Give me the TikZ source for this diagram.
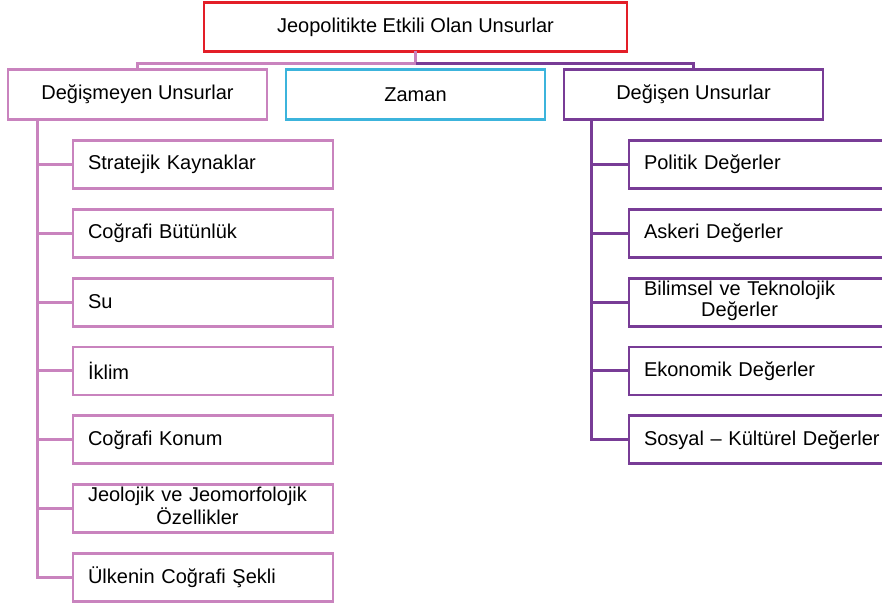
\documentclass[tikz,border=0pt]{standalone}
\usepackage{fontspec}
\setmainfont{Liberation Sans}
\usetikzlibrary{positioning}
\definecolor{jpred}{HTML}{E31E28}
\definecolor{jppink}{HTML}{C983BE}
\definecolor{jppurple}{HTML}{783C96}
\definecolor{jpcyan}{HTML}{3CB4DC}
\newcommand{\twoline}[2]{\begin{tabular}{@{}c@{}}#1\\#2\end{tabular}}

\begin{document}
\begin{tikzpicture}[x=1pt, y=1pt,
    box/.style={draw, fill=white, line width=2.8pt, inner sep=0pt, outer sep=0pt,
                font=\fontsize{20}{20}\selectfont},
    headbox/.style={box, minimum width=259pt, minimum height=50pt},
    leftitem/.style={box, draw=jppink, minimum height=48pt, inner xsep=15pt,
                     text width=230pt, align=left},
    rightitem/.style={box, draw=jppurple, minimum height=48pt, inner xsep=15pt,
                      text width=240pt, align=left},
    pinkline/.style={draw=jppink, line width=3pt},
    purpleline/.style={draw=jppurple, line width=3pt}]
  \useasboundingbox[fill=white] (0,0) rectangle (882,-607);

  \node[box, draw=jpred, minimum width=423pt, minimum height=49pt] (top) at (415.5,-27)
    {Jeopolitikte Etkili Olan Unsurlar};
  \node[headbox, draw=jpcyan, below=18pt of top] (zaman) {Zaman};
  \node[headbox, draw=jppink, left=19pt of zaman] (sabit) {Değişmeyen Unsurlar};
  \node[headbox, draw=jppurple, right=19pt of zaman] (degisen) {Değişen Unsurlar};

  % degismeyen unsurlar
  \node[leftitem, anchor=north west] (s1) at ([xshift=65pt, yshift=-21pt]sabit.south west)
    {Stratejik Kaynaklar};
  \node[leftitem, below=20.8pt of s1] (s2) {Coğrafi Bütünlük};
  \node[leftitem, below=20.8pt of s2] (s3) {Su};
  \node[leftitem, below=20.8pt of s3] (s4) {İklim};
  \node[leftitem, below=20.8pt of s4] (s5) {Coğrafi Konum};
  \node[leftitem, below=20.8pt of s5] (s6) {\twoline{Jeolojik ve Jeomorfolojik}{Özellikler}};
  \node[leftitem, below=20.8pt of s6] (s7) {Ülkenin Coğrafi Şekli};

  % degisen unsurlar
  \node[rightitem, anchor=north west] (d1) at ([xshift=65pt, yshift=-21pt]degisen.south west)
    {Politik Değerler};
  \node[rightitem, below=20.8pt of d1] (d2) {Askeri Değerler};
  \node[rightitem, below=20.8pt of d2] (d3) {\twoline{Bilimsel ve Teknolojik}{Değerler}};
  \node[rightitem, below=20.8pt of d3] (d4) {Ekonomik Değerler};
  \node[rightitem, below=20.8pt of d4] (d5) {Sosyal -- Kültürel Değerler};

  \coordinate (fork) at ([yshift=-12pt]top.south);
  \coordinate (sspine) at ([xshift=29pt]sabit.south west);
  \coordinate (dspine) at ([xshift=27pt]degisen.south west);

  \draw[pinkline] (top.south) -- (fork) -| (sabit.north);
  \draw[purpleline] (fork) -| (degisen.north);

  \draw[pinkline] (sspine) |- (s7.west);
  \foreach \n in {s1,s2,s3,s4,s5,s6}
    \draw[pinkline] (sspine |- \n.west) -- (\n.west);
  \draw[purpleline] (dspine) |- (d5.west);
  \foreach \n in {d1,d2,d3,d4}
    \draw[purpleline] (dspine |- \n.west) -- (\n.west);
\end{tikzpicture}
\end{document}
